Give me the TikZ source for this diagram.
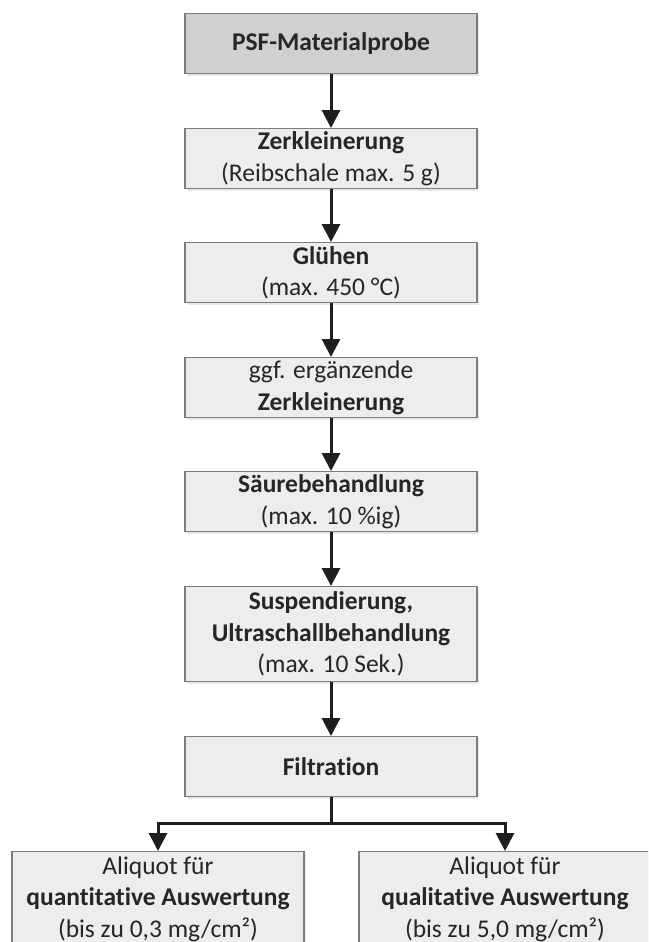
\documentclass[tikz,border=0pt]{standalone}
\usepackage{fontspec}
\setmainfont[Ligatures=NoCommon]{Carlito}
\usetikzlibrary{arrows.meta,shadows}
\definecolor{boxfill}{RGB}{237,237,237}
\definecolor{topfill}{RGB}{208,208,208}
\definecolor{boxline}{RGB}{125,125,125}
\definecolor{arrowc}{RGB}{30,30,30}
\tikzset{
  procbox/.style={draw=boxline, line width=1.2pt, fill=boxfill, minimum width=292pt,
    inner sep=0pt, align=center, anchor=north,
    font=\fontsize{25.5}{31.5}\selectfont, text=black!85,
    drop shadow={opacity=0.18, shadow xshift=1.5pt, shadow yshift=-2pt}},
  flowarrow/.style={draw=arrowc, line width=3pt, -{Triangle[width=18pt,length=18pt]}},
}
\begin{document}
\begin{tikzpicture}[x=1pt,y=-1pt]
\useasboundingbox[clip] (0,0) rectangle (648,942);
\fill[white] (0,0) rectangle (648,942);
\node[procbox, fill=topfill, minimum height=60pt] (a) at (331,13) {\textbf{PSF-Materialprobe}};
\node[procbox, minimum height=60pt] (b) at (331,128) {\textbf{Zerkleinerung}\\(Reibschale max. 5 g)};
\node[procbox, minimum height=60pt] (c) at (331,242) {\textbf{Glühen}\\(max. 450 °C)};
\node[procbox, minimum height=60pt] (d) at (331,357) {ggf. ergänzende\\\textbf{Zerkleinerung}};
\node[procbox, minimum height=60pt] (e) at (331,471) {\textbf{Säurebehandlung}\\(max. 10 \%ig)};
\node[procbox, minimum height=95pt] (f) at (331,586) {\textbf{Suspendierung,}\\\textbf{Ultraschallbehandlung}\\(max. 10 Sek.)};
\node[procbox, minimum height=60pt] (g) at (331,736) {\textbf{Filtration}};
\node[procbox, minimum height=95pt] (h) at (158,851) {Aliquot für\\\textbf{quantitative Auswertung}\\(bis zu 0,3 mg/cm²)};
\node[procbox, minimum height=95pt] (i) at (505,851) {Aliquot für\\\textbf{qualitative Auswertung}\\(bis zu 5,0 mg/cm²)};
\coordinate (j) at (331,823);
\draw[flowarrow] (a) -- (b);
\draw[flowarrow] (b) -- (c);
\draw[flowarrow] (c) -- (d);
\draw[flowarrow] (d) -- (e);
\draw[flowarrow] (e) -- (f);
\draw[flowarrow] (f) -- (g);
\draw[draw=arrowc, line width=3pt] (g) -- (j);
\draw[flowarrow] (j) -| (h);
\draw[flowarrow] (j) -| (i);
\end{tikzpicture}
\end{document}
